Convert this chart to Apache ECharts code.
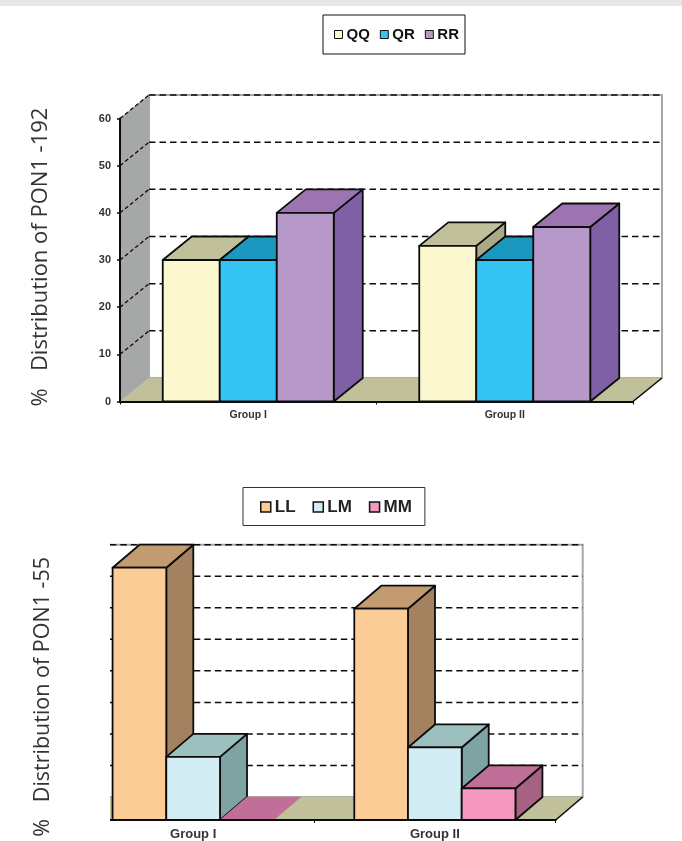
<!DOCTYPE html>
<html>
<head>
<meta charset="utf-8">
<style>html,body{margin:0;padding:0;background:#fff}#c{width:682px;height:841px}</style>
<script src="https://cdn.jsdelivr.net/npm/echarts@6/dist/echarts.min.js"></script>
</head>
<body>
<div id="c"></div>
<script>
const groups192 = ['Group I', 'Group II'];
const QQ = [30, 33];
const QR = [30, 30];
const RR = [40, 37];
const ticks192 = [10, 20, 30, 40, 50, 60];

const groups55 = ['Group I', 'Group II'];
const LL = [80, 67];
const LM = [20, 23];
const MM = [0, 10];
const ticks55 = [10, 20, 30, 40, 50, 60, 70, 80];

const yName192 = '%   Distribution of PON1 -192';
const yName55 = '%   Distribution of PON1 -55';

const palette = {
  QQ: ['#FBF8CF', '#C0C09A', '#A9A988'],
  QR: ['#33C4F3', '#1A98C0', '#167FA0'],
  RR: ['#B699C8', '#9C74B0', '#8060A4'],
  LL: ['#FCCC96', '#C29C70', '#A5825F'],
  LM: ['#D2EDF4', '#9BC0BE', '#7FA3A2'],
  MM: ['#F498BF', '#C07098', '#A56282']
};
const FLOOR = '#C0C09A', WALL = '#A6A8A8', EDGE = '#A8A8A8', INK = '#0c0c0c';

function pts(list) { return { points: list }; }
function poly(list, fill, stroke, lw) {
  return { type: 'polygon', shape: pts(list), style: { fill: fill, stroke: stroke || INK, lineWidth: lw === undefined ? 1.8 : lw, lineJoin: 'round' } };
}
function line(a, b, color, lw, dash) {
  return { type: 'line', shape: { x1: a[0], y1: a[1], x2: b[0], y2: b[1] }, style: { stroke: color, lineWidth: lw, lineDash: dash || null, fill: null } };
}

function barSeries(name, vals, pos, axis, depth, z) {
  const c = palette[name];
  return {
    type: 'custom', name: name, xAxisIndex: axis, yAxisIndex: axis, z: z,
    itemStyle: { color: c[0] }, encode: { x: 0, y: 1 },
    data: vals.map((v, i) => [i, v]),
    renderItem(params, api) {
      const band = api.size([1, 0])[0];
      const w = band / 4.5;
      const top = api.coord([api.value(0), api.value(1)]);
      const base = api.coord([api.value(0), 0]);
      const x0 = top[0] + (pos - 1.5) * w, x1 = x0 + w;
      const [dx, dy] = depth;
      const kids = [];
      if (api.value(1) > 0) {
        kids.push(poly([[x1, base[1]], [x1 + dx, base[1] + dy], [x1 + dx, top[1] + dy], [x1, top[1]]], c[2]));
      }
      kids.push(poly([[x0, top[1]], [x0 + dx, top[1] + dy], [x1 + dx, top[1] + dy], [x1, top[1]]], c[1], api.value(1) > 0 ? INK : c[1], api.value(1) > 0 ? 1.8 : 0.5));
      if (api.value(1) > 0) {
        kids.push(poly([[x0, base[1]], [x0, top[1]], [x1, top[1]], [x1, base[1]]], c[0]));
      }
      return { type: 'group', children: kids };
    }
  };
}

function wallSeries(ticks, axis, depth) {
  return {
    type: 'custom', name: 'walls' + axis, xAxisIndex: axis, yAxisIndex: axis, z: 1,
    encode: { x: 0, y: 1 }, silent: true,
    data: ticks.map(t => [0, t]),
    renderItem(params, api) {
      const cs = params.coordSys;
      const [dx, dy] = depth;
      const L = cs.x, R = cs.x + cs.width, B = cs.y + cs.height, T = cs.y;
      const kids = [];
      if (params.dataIndex === 0) {
        kids.push(poly([[L, B], [L, T], [L + dx, T + dy], [L + dx, B + dy]], WALL, EDGE, 1));
        kids.push(poly([[L + dx, B + dy], [L + dx, T + dy], [R + dx, T + dy], [R + dx, B + dy]], '#fff', EDGE, 2));
        kids.push(poly([[L, B], [L + dx, B + dy], [R + dx, B + dy], [R, B]], FLOOR, FLOOR, 0.5));
        kids.push(line([R, B], [R + dx, B + dy], INK, 1.6));
      }
      const y = api.coord([0, api.value(1)])[1];
      kids.push(line([L, y], [L + dx, y + dy], INK, 1.3, [4, 2.5]));
      kids.push(line([L + dx, y + dy], [R + dx, y + dy], INK, 1.5, [6.5, 4]));
      return { type: 'group', children: kids };
    }
  };
}

function xAxis(data, grid, size) {
  return {
    type: 'category', data: data, gridIndex: grid, boundaryGap: true, z: 10,
    axisLine: { show: true, onZero: false, lineStyle: { color: INK, width: 2 } },
    axisTick: { show: true, length: 3, lineStyle: { color: INK, width: 1 } },
    axisLabel: { fontFamily: 'Liberation Sans', fontWeight: 'bold', fontSize: size, color: '#333', margin: 8 },
    splitLine: { show: false }
  };
}

const depth192 = [29, -23.5];
const depth55 = [27, -23];

const option = {
  animation: false,
  backgroundColor: '#fff',
  grid: [
    { left: 120, right: 49, top: 118.5, height: 283 },
    { left: 72.3, right: 126.3, top: 567.7, height: 252.3 }
  ],
  legend: [
    {
      data: ['QQ', 'QR', 'RR'], left: 323, top: 15, orient: 'horizontal',
      padding: [12, 6, 12, 11], itemWidth: 8, itemHeight: 8, itemGap: 10,
      borderColor: '#111', borderWidth: 1, backgroundColor: '#fff', icon: 'rect',
      itemStyle: { borderColor: '#111', borderWidth: 1 },
      textStyle: { fontFamily: 'Liberation Sans', fontWeight: 'bold', fontSize: 15, color: '#111', padding: [0, 0, 0, -1] }
    },
    {
      data: ['LL', 'LM', 'MM'], left: 243, top: 487.5, orient: 'horizontal',
      padding: [11, 13, 10, 17], itemWidth: 10, itemHeight: 10, itemGap: 17,
      borderColor: '#333', borderWidth: 1, backgroundColor: '#fff', icon: 'rect',
      itemStyle: { borderColor: '#111', borderWidth: 1.5 },
      textStyle: { fontFamily: 'Liberation Sans', fontWeight: 'bold', fontSize: 17, color: '#222', padding: [0, 0, 0, -1] }
    }
  ],
  xAxis: [xAxis(groups192, 0, 10.5), xAxis(groups55, 1, 13)],
  yAxis: [
    {
      type: 'value', gridIndex: 0, min: 0, max: 60, interval: 10, z: 10,
      name: yName192, nameLocation: 'middle', nameGap: 68,
      nameTextStyle: { fontFamily: 'Open Sans', fontSize: 22, color: '#333', padding: [0, 0, 0, 6] },
      axisLine: { show: true, lineStyle: { color: INK, width: 2 } },
      axisTick: { show: true, length: 3, lineStyle: { color: INK, width: 1.5 } },
      axisLabel: { fontFamily: 'Liberation Sans', fontWeight: 'bold', fontSize: 11, color: '#333', margin: 9 },
      splitLine: { show: false }
    },
    {
      type: 'value', gridIndex: 1, min: 0, max: 80, interval: 10,
      name: yName55, nameLocation: 'middle', nameGap: 18,
      nameTextStyle: { fontFamily: 'Open Sans', fontSize: 21.5, color: '#333', padding: [0, 6, 0, 0] },
      axisLine: { show: false }, axisTick: { show: false }, axisLabel: { show: false },
      splitLine: { show: false }
    }
  ],
  graphic: {
    z: 100,
    elements: [
      { type: 'rect', z: 100, left: 0, top: 0, shape: { width: 682, height: 6 }, style: { fill: '#E6E7E8' } },
      { type: 'rect', z: 100, left: 60, top: 535, shape: { width: 50, height: 292 }, style: { fill: '#fff' } }
    ]
  },
  series: [
    wallSeries(ticks192, 0, depth192),
    barSeries('QQ', QQ, 0, 0, depth192, 2),
    barSeries('QR', QR, 1, 0, depth192, 3),
    barSeries('RR', RR, 2, 0, depth192, 4),
    wallSeries(ticks55, 1, depth55),
    barSeries('LL', LL, 0, 1, depth55, 2),
    barSeries('LM', LM, 1, 1, depth55, 3),
    barSeries('MM', MM, 2, 1, depth55, 4)
  ]
};
const chart = echarts.init(document.getElementById('c'), null, { renderer: 'canvas', width: 682, height: 841 });
chart.setOption(option);
</script>
</body>
</html>
